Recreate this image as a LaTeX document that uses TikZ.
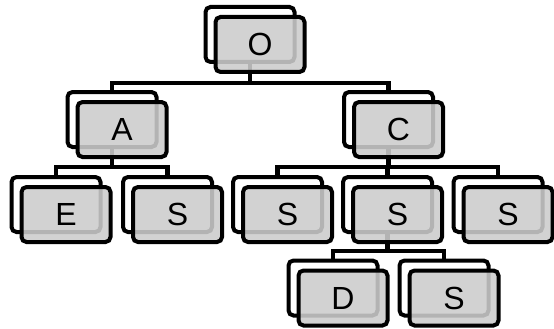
\documentclass[tikz,border=0pt]{standalone}
\usepackage{fontspec}
\setmainfont{Liberation Sans}
\usetikzlibrary{backgrounds}
\definecolor{boxgray}{RGB}{204,204,204}
\tikzset{
  backbox/.style={draw=black, line width=4pt, rounded corners=5pt, fill=white,
    minimum width=89pt, minimum height=55pt, inner sep=0pt},
  frontbox/.style={backbox, fill=boxgray, fill opacity=0.88, text opacity=1,
    font=\fontsize{32}{32}\selectfont},
  edge/.style={draw=black, line width=4.3pt, line join=miter}
}
\begin{document}
\begin{tikzpicture}[x=1pt,y=-1pt]
\useasboundingbox (0,0) rectangle (554,329);
% bar levels
\coordinate (bar0) at (0,83);
\coordinate (bar1) at (0,167);
\coordinate (bar2) at (0,251);
% back boxes
\node[backbox] (O) at (250,34.5) {};
\node[frontbox] (Of) at (260,44.5) {O};
\node[backbox] (A) at (112,119.5) {};
\node[frontbox] (Af) at (122,129.5) {A};
\node[backbox] (C) at (388.5,119.5) {};
\node[frontbox] (Cf) at (398.5,129.5) {C};
\node[backbox] (E) at (56,204.5) {};
\node[frontbox] (Ef) at (66,214.5) {E};
\node[backbox] (S1) at (167.5,204.5) {};
\node[frontbox] (S1f) at (177.5,214.5) {S};
\node[backbox] (S2) at (277.5,204.5) {};
\node[frontbox] (S2f) at (287.5,214.5) {S};
\node[backbox] (S3) at (387.5,204.5) {};
\node[frontbox] (S3f) at (397.5,214.5) {S};
\node[backbox] (S4) at (498,204.5) {};
\node[frontbox] (S4f) at (508,214.5) {S};
\node[backbox] (D) at (333,288) {};
\node[frontbox] (Df) at (343,298) {D};
\node[backbox] (S5) at (444,288) {};
\node[frontbox] (S5f) at (454,298) {S};
\begin{scope}[on background layer]
\draw[edge] (O.center) -- (O.center |- bar0) -| (A.center);
\draw[edge] (O.center |- bar0) -| (C.center);
\draw[edge] (A.center) -- (A.center |- bar1) -| (E.center);
\draw[edge] (A.center |- bar1) -| (S1.center);
\draw[edge] (C.center) -- (C.center |- bar1) -| (S2.center);
\draw[edge] (C.center |- bar1) -| (S3.center);
\draw[edge] (C.center |- bar1) -| (S4.center);
\draw[edge] (S3.center) -- (S3.center |- bar2) -| (D.center);
\draw[edge] (S3.center |- bar2) -| (S5.center);
\end{scope}
\end{tikzpicture}
\end{document}
